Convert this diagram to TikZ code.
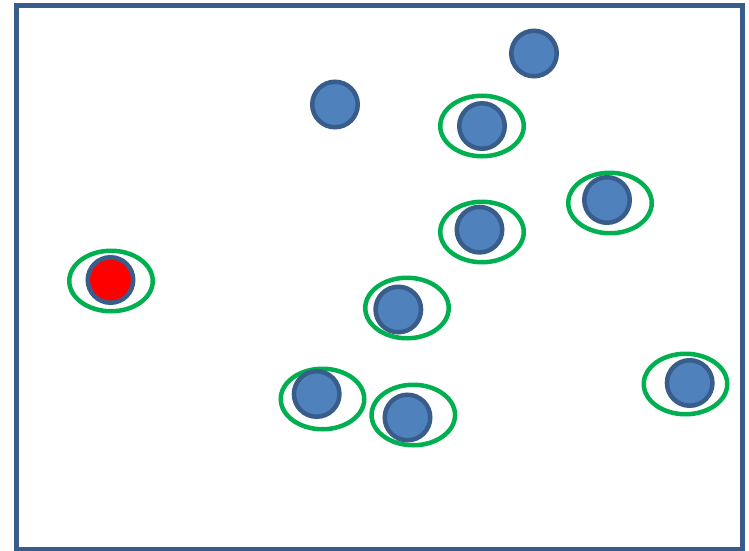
\documentclass[tikz,border=0pt]{standalone}
\definecolor{ptfill}{HTML}{4F81BD}
\definecolor{ptedge}{HTML}{385D8A}
\definecolor{ringgreen}{HTML}{00B050}
\definecolor{querred}{HTML}{FF0000}
\tikzset{
  pt/.style={circle, draw=ptedge, fill=ptfill, line width=4.5pt, minimum size=45.5pt, inner sep=0pt},
  qpt/.style={pt, fill=querred},
  ring/.style={ellipse, draw=ringgreen, line width=4.5pt, minimum width=83.5pt, minimum height=60.5pt, inner sep=0pt},
  frameline/.style={draw=ptedge, line width=5pt}
}
\usetikzlibrary{shapes.geometric}
\begin{document}
\begin{tikzpicture}[x=1pt,y=-1pt]
\useasboundingbox (0,0) rectangle (749,551);
\draw[frameline] (16.5,6) rectangle (742,549);
% standalone points
\node[pt] (p1) at (534,53.5) {};
\node[pt] (p2) at (335,104.5) {};
% rings
\node[ring] (r1) at (482,126) {};
\node[ring] (r2) at (610,203) {};
\node[ring] (r3) at (482,232) {};
\node[ring] (r4) at (111,281) {};
\node[ring] (r5) at (407,308) {};
\node[ring] (r6) at (322.5,399) {};
\node[ring] (r7) at (413.3,415) {};
\node[ring] (r8) at (685.5,384) {};
% points inside rings
\node[pt] (c1) at (482,126) {};
\node[pt] (c2) at (607,200) {};
\node[pt] (c3) at (479.5,229.7) {};
\node[qpt] (q) at (110.5,280) {};
\node[pt] (c5) at (398.3,309.5) {};
\node[pt] (c6) at (316.7,394) {};
\node[pt] (c7) at (407.5,417.5) {};
\node[pt] (c8) at (689.7,383) {};
\end{tikzpicture}
\end{document}
